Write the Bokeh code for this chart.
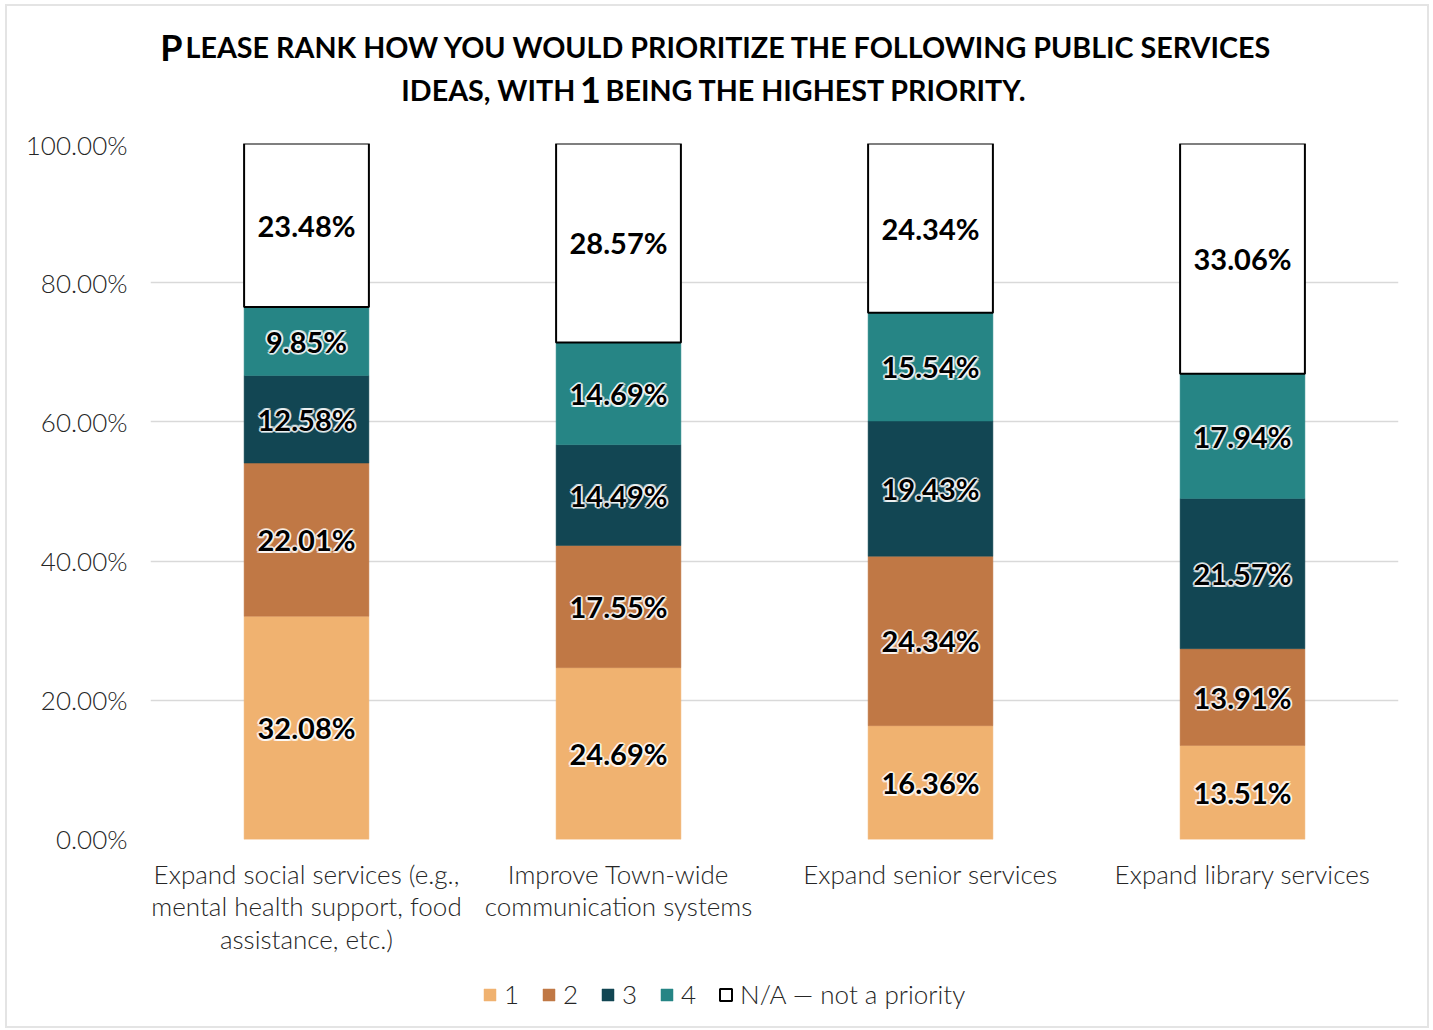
from bokeh.plotting import figure
from bokeh.layouts import column
from bokeh.models import (ColumnDataSource, FactorRange, Range1d, Legend, LegendItem, FixedTicker,
                          CustomJSTickFormatter)
from bokeh.core.properties import value
from bokeh.embed import file_html
from bokeh.resources import INLINE

categories = [
    "Expand social services (e.g.,\nmental health support, food\nassistance, etc.)",
    "Improve Town-wide\ncommunication systems",
    "Expand senior services",
    "Expand library services",
]
rank1 = [32.08, 24.69, 16.36, 13.51]
rank2 = [22.01, 17.55, 24.34, 13.91]
rank3 = [12.58, 14.49, 19.43, 21.57]
rank4 = [9.85, 14.69, 15.54, 17.94]
rank_na = [23.48, 28.57, 24.34, 33.06]
series_names = ["1", "2", "3", "4", "N/A \u2014 not a priority"]
series_keys = ["r1", "r2", "r3", "r4", "na"]
colors = ["#F0B270", "#C07845", "#124653", "#268585", "#FFFFFF"]
edge_colors = ["#F0B270", "#C07845", "#124653", "#268585", "#000000"]
edge_widths = [0.5, 0.5, 0.5, 0.5, 2]
y_ticks = [0, 20, 40, 60, 80, 100]
title_line1 = [("P", "big"), ("LEASE RANK HOW YOU WOULD PRIORITIZE THE FOLLOWING PUBLIC SERVICES", "small")]
title_line2 = [("IDEAS, WITH", "small"), ("1", "big"), ("BEING THE HIGHEST PRIORITY.", "small")]

LIGHT = "Lato Light"
BOLD = "Lato"
BL, BR = 143, 29
FRAME_W, FRAME_H = 1248, 696
OX, OY = 7, 6                  # content origin on the page (margin + border)
X0 = OX + BL                   # frame left on the page
X1 = X0 + FRAME_W
FW = BL + FRAME_W + BR

# ---------------- title strip ----------------
TH = 122
t = figure(width=FW, height=TH, x_range=Range1d(X0, X1), y_range=Range1d(OY + TH, OY),
           output_backend="svg", toolbar_location=None, x_axis_location=None, y_axis_location=None,
           min_border_left=BL, min_border_right=BR, min_border_top=0, min_border_bottom=0)
t.grid.visible = False
t.outline_line_color = None
sizes = {"big": "36px", "small": "28.7px"}
placements1 = [(182, 46, "right"), (185, 46, "left")]
placements2 = [(575, 89, "right"), (590, 89, "center"), (605, 89, "left")]
for parts, places in ((title_line1, placements1), (title_line2, placements2)):
    for (txt, sz), (x, y, al) in zip(parts, places):
        t.text(x=[x], y=[y], text=[txt], text_font=value(BOLD), text_font_style="bold",
               text_font_size=sizes[sz], text_align=al, text_baseline="alphabetic",
               text_color="black")

# ---------------- main chart ----------------
data = dict(cat=categories, r1=rank1, r2=rank2, r3=rank3, r4=rank4, na=rank_na)
src = ColumnDataSource(data)

p = figure(x_range=FactorRange(*categories), y_range=Range1d(0, 100),
           frame_width=FRAME_W, frame_height=FRAME_H, output_backend="svg", toolbar_location=None,
           x_axis_location=None,
           min_border_left=BL, min_border_right=BR, min_border_top=15, min_border_bottom=15)
p.outline_line_color = None

p.vbar_stack(series_keys, x="cat", width=0.4, source=src,
             fill_color=colors, line_color=edge_colors, line_width=edge_widths)

all_series = [rank1, rank2, rank3, rank4, rank_na]
lx, ly, lt = [], [], []
for i, c in enumerate(categories):
    base = 0.0
    for s in all_series:
        v = s[i]
        lx.append(c)
        ly.append(base + v / 2)
        lt.append(f"{v:.2f}%")
        base += v
lsrc = ColumnDataSource(dict(x=lx, y=ly, t=lt))
for dx, dy in [(-2, 0), (2, 0), (0, -2), (0, 2), (-1.5, -1.5), (1.5, -1.5), (-1.5, 1.5), (1.5, 1.5)]:
    p.text(x="x", y="y", text="t", source=lsrc, text_align="center", text_baseline="middle",
           text_font=value(BOLD), text_font_style="bold", text_font_size="29px",
           text_color="white", text_alpha=0.6, x_offset=dx, y_offset=dy)
p.text(x="x", y="y", text="t", source=lsrc, text_align="center", text_baseline="middle",
       text_font=value(BOLD), text_font_style="bold", text_font_size="29px", text_color="black")

p.yaxis.ticker = FixedTicker(ticks=y_ticks)
p.yaxis.formatter = CustomJSTickFormatter(code="return tick.toFixed(2) + '%';")
p.yaxis.axis_line_color = None
p.yaxis.major_tick_line_color = None
p.yaxis.minor_tick_line_color = None
p.yaxis.major_label_text_font = LIGHT
p.yaxis.major_label_text_font_size = "26px"
p.yaxis.major_label_text_color = "#262626"
p.yaxis.major_label_standoff = 17
p.xgrid.grid_line_color = None
p.ygrid.grid_line_color = "#d9d9d9"
p.ygrid.grid_line_width = 1.5

# ---------------- category labels + legend strip ----------------
B0 = OY + TH + 15 + FRAME_H + 15
BH = 172
b = figure(width=FW, height=BH, x_range=p.x_range, y_range=Range1d(B0 + BH, B0),
           output_backend="svg", toolbar_location=None, x_axis_location=None, y_axis_location=None,
           min_border_left=BL, min_border_right=BR, min_border_top=0, min_border_bottom=0)
b.grid.visible = False
b.outline_line_color = None
b.text(x=categories, y=[857] * len(categories), text=categories, text_font=value(LIGHT),
       text_font_size="26px", text_align="center", text_baseline="top", text_color="#262626",
       text_line_height=1.03)

# legend swatches: hidden renderers that only lend their style to the legend
swatches = []
for c, lc, lw in zip(colors, edge_colors, edge_widths):
    r = b.vbar(x=[categories[0]], bottom=[B0 + 1], top=[B0 + 1], width=0.4,
               fill_color=c, line_color=lc, line_width=lw)
    r.visible = False
    swatches.append(r)
legend = Legend(items=[LegendItem(label=n, renderers=[r]) for n, r in zip(series_names, swatches)],
                orientation="horizontal", location=(482 - X0, 16),
                label_text_font=LIGHT, label_text_font_size="26px", label_text_color="#262626",
                glyph_width=15, glyph_height=15, label_standoff=7, spacing=17,
                border_line_color=None, background_fill_alpha=0, margin=0, padding=0)
b.add_layout(legend)

layout = column(t, p, b, spacing=0, margin=(4, 0, 0, 5),
                styles={"border": "2px solid #e4e4e4"})
open("out.html", "w").write(file_html(layout, INLINE))
